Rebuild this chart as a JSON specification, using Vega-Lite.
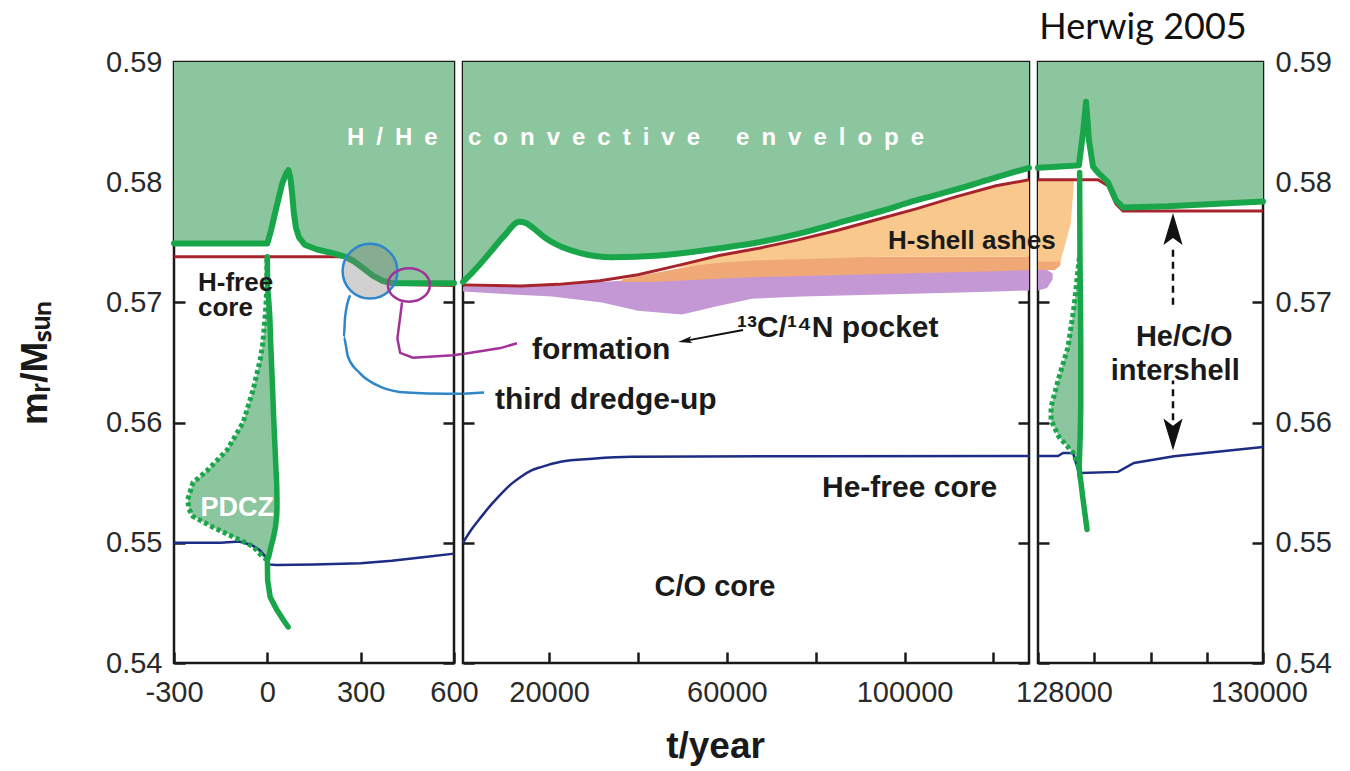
{
  "$schema": "https://vega.github.io/schema/vega-lite/v6.json",
  "background": "white",
  "padding": {"left": 15, "top": 9, "right": 5, "bottom": 5},
  "title": {"text": "Herwig 2005", "anchor": "end", "font": "Lato", "fontSize": 36, "fontWeight": "normal", "color": "#111111", "dx": -86, "offset": 0},
  "bounds": "flush",
  "spacing": 9,
  "datasets": {
    "envelope": [
      {"p":1,"x":-300,"y":0.5749},{"p":1,"x":0,"y":0.5749},{"p":1,"x":12,"y":0.5760},{"p":1,"x":30,"y":0.5780},{"p":1,"x":48,"y":0.5799},{"p":1,"x":60,"y":0.5807},{"p":1,"x":68,"y":0.5810},{"p":1,"x":74,"y":0.5804},{"p":1,"x":80,"y":0.5790},{"p":1,"x":85,"y":0.5775},{"p":1,"x":92,"y":0.5762},{"p":1,"x":102,"y":0.5754},{"p":1,"x":120,"y":0.5748},{"p":1,"x":160,"y":0.5744},{"p":1,"x":210,"y":0.5741},{"p":1,"x":250,"y":0.5738},{"p":1,"x":280,"y":0.5734},{"p":1,"x":310,"y":0.5728},{"p":1,"x":340,"y":0.5722},{"p":1,"x":370,"y":0.5718},{"p":1,"x":400,"y":0.5716},{"p":1,"x":600,"y":0.5716},
      {"p":2,"x":600,"y":0.5717},{"p":2,"x":3500,"y":0.5728},{"p":2,"x":6565,"y":0.5741},{"p":2,"x":10000,"y":0.5756},{"p":2,"x":13250,"y":0.5767},{"p":2,"x":14800,"y":0.5766},{"p":2,"x":16360,"y":0.5762},{"p":2,"x":19000,"y":0.5754},{"p":2,"x":21710,"y":0.5748},{"p":2,"x":27050,"y":0.5741},{"p":2,"x":34140,"y":0.57375},{"p":2,"x":44860,"y":0.5739},{"p":2,"x":58230,"y":0.5745},{"p":2,"x":67140,"y":0.5750},{"p":2,"x":76000,"y":0.5757},{"p":2,"x":84950,"y":0.5766},{"p":2,"x":93800,"y":0.5775},{"p":2,"x":102770,"y":0.5785},{"p":2,"x":111660,"y":0.5794},{"p":2,"x":120580,"y":0.5804},{"p":2,"x":128000,"y":0.5812},
      {"p":3,"x":128000,"y":0.5812},{"p":3,"x":128200,"y":0.5813},{"p":3,"x":128364,"y":0.5814},{"p":3,"x":128385,"y":0.5830},{"p":3,"x":128400,"y":0.5841},{"p":3,"x":128427,"y":0.5867},{"p":3,"x":128440,"y":0.5852},{"p":3,"x":128453,"y":0.5835},{"p":3,"x":128489,"y":0.5813},{"p":3,"x":128533,"y":0.5808},{"p":3,"x":128622,"y":0.5800},{"p":3,"x":128693,"y":0.5785},{"p":3,"x":128756,"y":0.5779},{"p":3,"x":129156,"y":0.5780},{"p":3,"x":130000,"y":0.5784}
    ],
    "hfree": [
      {"p":1,"x":-300,"y":0.5738},{"p":1,"x":250,"y":0.5738},{"p":1,"x":300,"y":0.5729},{"p":1,"x":350,"y":0.5720},{"p":1,"x":400,"y":0.5715},{"p":1,"x":600,"y":0.5714},
      {"p":2,"x":600,"y":0.57145},{"p":2,"x":13660,"y":0.57136},{"p":2,"x":22000,"y":0.5715},{"p":2,"x":31440,"y":0.5718},{"p":2,"x":40000,"y":0.5723},{"p":2,"x":49310,"y":0.5731},{"p":2,"x":58230,"y":0.5739},{"p":2,"x":67140,"y":0.5745},{"p":2,"x":76000,"y":0.5752},{"p":2,"x":84950,"y":0.5760},{"p":2,"x":93800,"y":0.5769},{"p":2,"x":102770,"y":0.5778},{"p":2,"x":111660,"y":0.5788},{"p":2,"x":120580,"y":0.5797},{"p":2,"x":128000,"y":0.5802},
      {"p":3,"x":128000,"y":0.5802},{"p":3,"x":128533,"y":0.5802},{"p":3,"x":128622,"y":0.5797},{"p":3,"x":128693,"y":0.5782},{"p":3,"x":128756,"y":0.5776},{"p":3,"x":130000,"y":0.5776}
    ],
    "hefree": [
      {"p":1,"x":-300,"y":0.5500},{"p":1,"x":-150,"y":0.5500},{"p":1,"x":-90,"y":0.5501},{"p":1,"x":-50,"y":0.5498},{"p":1,"x":-25,"y":0.5494},{"p":1,"x":-8,"y":0.5489},{"p":1,"x":0,"y":0.5486},{"p":1,"x":2,"y":0.5482},{"p":1,"x":30,"y":0.54815},{"p":1,"x":150,"y":0.5482},{"p":1,"x":300,"y":0.5483},{"p":1,"x":400,"y":0.5485},{"p":1,"x":500,"y":0.5488},{"p":1,"x":600,"y":0.5491},
      {"p":2,"x":600,"y":0.5500},{"p":2,"x":2500,"y":0.5511},{"p":2,"x":4787,"y":0.5522},{"p":2,"x":7000,"y":0.5532},{"p":2,"x":9244,"y":0.5541},{"p":2,"x":11500,"y":0.5549},{"p":2,"x":13656,"y":0.5555},{"p":2,"x":15900,"y":0.5560},{"p":2,"x":18158,"y":0.5563},{"p":2,"x":22593,"y":0.55675},{"p":2,"x":29729,"y":0.5570},{"p":2,"x":38642,"y":0.55716},{"p":2,"x":80000,"y":0.5572},{"p":2,"x":128000,"y":0.55722},
      {"p":3,"x":128000,"y":0.55722},{"p":3,"x":128178,"y":0.55722},{"p":3,"x":128222,"y":0.55747},{"p":3,"x":128311,"y":0.55747},{"p":3,"x":128364,"y":0.5558},{"p":3,"x":128380,"y":0.5558},{"p":3,"x":128711,"y":0.5559},{"p":3,"x":128853,"y":0.55664},{"p":3,"x":129209,"y":0.5572},{"p":3,"x":130000,"y":0.55797}
    ],
    "pdcz": [
      {"p":1,"y":0.5737,"xl":-1,"xr":1},{"p":1,"y":0.5712,"xl":-2,"xr":2},{"p":1,"y":0.5700,"xl":-4,"xr":5},{"p":1,"y":0.5688,"xl":-7,"xr":8},{"p":1,"y":0.5665,"xl":-15,"xr":11},{"p":1,"y":0.5652,"xl":-23,"xr":13},{"p":1,"y":0.5627,"xl":-46,"xr":17},{"p":1,"y":0.5600,"xl":-78,"xr":21},{"p":1,"y":0.5577,"xl":-130,"xr":25},{"p":1,"y":0.5560,"xl":-194,"xr":28},{"p":1,"y":0.5550,"xl":-239,"xr":30},{"p":1,"y":0.5536,"xl":-256,"xr":31},{"p":1,"y":0.5528,"xl":-252,"xr":31},{"p":1,"y":0.5522,"xl":-239,"xr":30},{"p":1,"y":0.5513,"xl":-175,"xr":26},{"p":1,"y":0.5505,"xl":-110,"xr":20},{"p":1,"y":0.5497,"xl":-46,"xr":12},{"p":1,"y":0.5488,"xl":-14,"xr":4},{"p":1,"y":0.5486,"xl":0,"xr":1},
      {"p":3,"y":0.5738,"xl":128368,"xr":128375},{"p":3,"y":0.5696,"xl":128320,"xr":128378},{"p":3,"y":0.5663,"xl":128267,"xr":128380},{"p":3,"y":0.5635,"xl":128178,"xr":128380},{"p":3,"y":0.5613,"xl":128116,"xr":128380},{"p":3,"y":0.5602,"xl":128116,"xr":128378},{"p":3,"y":0.5588,"xl":128187,"xr":128375},{"p":3,"y":0.5575,"xl":128311,"xr":128370},{"p":3,"y":0.5563,"xl":128364,"xr":128366}
    ],
    "pdczSolid": [
      {"p":1,"x":0,"y":0.5738},{"p":1,"x":1,"y":0.5712},{"p":1,"x":5,"y":0.5700},{"p":1,"x":8,"y":0.5688},{"p":1,"x":11,"y":0.5665},{"p":1,"x":13,"y":0.5652},{"p":1,"x":17,"y":0.5627},{"p":1,"x":21,"y":0.5600},{"p":1,"x":25,"y":0.5577},{"p":1,"x":28,"y":0.5560},{"p":1,"x":30,"y":0.5550},{"p":1,"x":31,"y":0.5536},{"p":1,"x":31,"y":0.5528},{"p":1,"x":30,"y":0.5522},{"p":1,"x":26,"y":0.5513},{"p":1,"x":20,"y":0.5505},{"p":1,"x":12,"y":0.5497},{"p":1,"x":4,"y":0.5488},{"p":1,"x":0,"y":0.5486},{"p":1,"x":1,"y":0.5469},{"p":1,"x":9,"y":0.5455},{"p":1,"x":31,"y":0.5444},{"p":1,"x":51,"y":0.5436},{"p":1,"x":67,"y":0.5430},
      {"p":3,"x":128370,"y":0.5808},{"p":3,"x":128373,"y":0.5738},{"p":3,"x":128378,"y":0.5696},{"p":3,"x":128380,"y":0.5663},{"p":3,"x":128380,"y":0.5613},{"p":3,"x":128378,"y":0.5602},{"p":3,"x":128375,"y":0.5588},{"p":3,"x":128370,"y":0.5575},{"p":3,"x":128366,"y":0.5563},{"p":3,"x":128372,"y":0.5556},{"p":3,"x":128382,"y":0.5550},{"p":3,"x":128395,"y":0.5540},{"p":3,"x":128409,"y":0.5530},{"p":3,"x":128436,"y":0.5511}
    ],
    "ashes": [
      {"p":2,"band":"pocket","x":600,"y":0.5713,"y2":0.5709},{"p":2,"band":"pocket","x":10000,"y":0.5713,"y2":0.5707},{"p":2,"band":"pocket","x":20630,"y":0.5715,"y2":0.5705},{"p":2,"band":"pocket","x":31890,"y":0.5717,"y2":0.5700},{"p":2,"band":"pocket","x":40000,"y":0.5719,"y2":0.5693},{"p":2,"band":"pocket","x":49900,"y":0.5720,"y2":0.5690},{"p":2,"band":"pocket","x":58000,"y":0.5721,"y2":0.5697},{"p":2,"band":"pocket","x":65650,"y":0.5722,"y2":0.5703},{"p":2,"band":"pocket","x":76910,"y":0.5723,"y2":0.5705},{"p":2,"band":"pocket","x":88160,"y":0.5724,"y2":0.5706},{"p":2,"band":"pocket","x":99420,"y":0.5725,"y2":0.5707},{"p":2,"band":"pocket","x":110670,"y":0.5726,"y2":0.5708},{"p":2,"band":"pocket","x":120580,"y":0.5727,"y2":0.5709},{"p":2,"band":"pocket","x":128000,"y":0.5728,"y2":0.5710},
      {"p":3,"band":"pocket","x":128000,"y":0.5728,"y2":0.5710},{"p":3,"band":"pocket","x":128080,"y":0.5727,"y2":0.5712},{"p":3,"band":"pocket","x":128130,"y":0.5724,"y2":0.5719},
      {"p":2,"band":"mixing","x":36390,"y":0.5719,"y2":0.5717},{"p":2,"band":"mixing","x":43140,"y":0.5724,"y2":0.5717},{"p":2,"band":"mixing","x":54400,"y":0.5732,"y2":0.5719},{"p":2,"band":"mixing","x":65650,"y":0.5736,"y2":0.5721},{"p":2,"band":"mixing","x":76910,"y":0.5737,"y2":0.5722},{"p":2,"band":"mixing","x":88160,"y":0.5738,"y2":0.5723},{"p":2,"band":"mixing","x":99420,"y":0.5738,"y2":0.5724},{"p":2,"band":"mixing","x":110670,"y":0.5738,"y2":0.5725},{"p":2,"band":"mixing","x":120580,"y":0.5738,"y2":0.5726},{"p":2,"band":"mixing","x":128000,"y":0.5738,"y2":0.5727},
      {"p":3,"band":"mixing","x":128000,"y":0.5738,"y2":0.5727},{"p":3,"band":"mixing","x":128150,"y":0.5738,"y2":0.5727},{"p":3,"band":"mixing","x":128200,"y":0.5736,"y2":0.5731},
      {"p":2,"band":"ashes","x":49310,"y":0.5731,"y2":0.5729},{"p":2,"band":"ashes","x":58230,"y":0.5739,"y2":0.5733},{"p":2,"band":"ashes","x":67140,"y":0.5745,"y2":0.5735},{"p":2,"band":"ashes","x":76000,"y":0.5752,"y2":0.5736},{"p":2,"band":"ashes","x":84950,"y":0.5760,"y2":0.5737},{"p":2,"band":"ashes","x":93800,"y":0.5769,"y2":0.5738},{"p":2,"band":"ashes","x":102770,"y":0.5778,"y2":0.5738},{"p":2,"band":"ashes","x":111660,"y":0.5788,"y2":0.5738},{"p":2,"band":"ashes","x":120580,"y":0.5797,"y2":0.5738},{"p":2,"band":"ashes","x":128000,"y":0.5802,"y2":0.5738},
      {"p":3,"band":"ashes","x":128000,"y":0.5802,"y2":0.5734},{"p":3,"band":"ashes","x":128200,"y":0.5802,"y2":0.5734},{"p":3,"band":"ashes","x":128290,"y":0.5802,"y2":0.5765},{"p":3,"band":"ashes","x":128320,"y":0.5802,"y2":0.5800}
    ],
    "leaders": [
      {"p":1,"name":"dredge-up","i":0,"x":266,"y":0.5706},{"p":1,"name":"dredge-up","i":1,"x":250,"y":0.5688},{"p":1,"name":"dredge-up","i":2,"x":246,"y":0.5671},{"p":1,"name":"dredge-up","i":3,"x":259,"y":0.5655},{"p":1,"name":"dredge-up","i":4,"x":298,"y":0.5641},{"p":1,"name":"dredge-up","i":5,"x":362,"y":0.5630},{"p":1,"name":"dredge-up","i":6,"x":449,"y":0.5625},{"p":1,"name":"dredge-up","i":7,"x":578,"y":0.5624},{"p":1,"name":"dredge-up","i":8,"x":625,"y":0.5624},
      {"p":2,"name":"dredge-up","i":0,"x":600,"y":0.5624},{"p":2,"name":"dredge-up","i":1,"x":5330,"y":0.5625},
      {"p":1,"name":"formation","i":0,"x":433,"y":0.5700},{"p":1,"name":"formation","i":1,"x":427,"y":0.5688},{"p":1,"name":"formation","i":2,"x":418,"y":0.5670},{"p":1,"name":"formation","i":3,"x":427,"y":0.5658},{"p":1,"name":"formation","i":4,"x":468,"y":0.5654},{"p":1,"name":"formation","i":5,"x":597,"y":0.5656},{"p":1,"name":"formation","i":6,"x":625,"y":0.5657},
      {"p":2,"name":"formation","i":0,"x":600,"y":0.5657},{"p":2,"name":"formation","i":1,"x":9050,"y":0.5662},{"p":2,"name":"formation","i":2,"x":12750,"y":0.5666}
    ],
    "circles": [
      {"p":1,"name":"dredge-up","x":330,"y":0.5726},
      {"p":1,"name":"formation","x":455,"y":0.57145}
    ],
    "pointer": [
      {"part":"stem","x":63630,"y":0.5677},{"part":"stem","x":50570,"y":0.5668},{"part":"head","x":50570,"y":0.5668}
    ],
    "span": [
      {"part":"upper","x":129200,"y":0.5748},{"part":"upper","x":129200,"y":0.5698},
      {"part":"lower","x":129200,"y":0.5635},{"part":"lower","x":129200,"y":0.5602},
      {"part":"top","x":129200,"y":0.5761},{"part":"bottom","x":129200,"y":0.5590}
    ],
    "notes": [
      {"p":1,"text":"H\u2002/\u2002H\u2002e","x":256,"y":0.5837},
      {"p":1,"text":"PDCZ","x":-97,"y":0.5529},
      {"p":1,"text":"H-free","x":-223,"y":0.5716},
      {"p":1,"text":"core","x":-223,"y":0.5695},
      {"p":2,"text":"c\u2002o\u2002n\u2002v\u2002e\u2002c\u2002t\u2002i\u2002v\u2002e\u2003\u2002e\u2002n\u2002v\u2002e\u2002l\u2002o\u2002p\u2002e","x":1726,"y":0.5837},
      {"p":2,"text":"formation","x":16130,"y":0.5660},
      {"p":2,"text":"¹³C/¹⁴N pocket","x":62280,"y":0.5679},
      {"p":2,"text":"third dredge-up","x":7800,"y":0.5619},
      {"p":2,"text":"He-free core","x":81410,"y":0.5546},
      {"p":2,"text":"C/O core","x":57330,"y":0.5463},
      {"p":3,"text":"H-shell ashes","x":126667,"y":0.5751},
      {"p":3,"text":"He/C/O","x":129300,"y":0.5671},
      {"p":3,"text":"intershell","x":129220,"y":0.5643}
    ]
  },
  "hconcat": [
    {
      "width": 280,
      "height": 601,
      "resolve": {"axis": {"x": "independent", "y": "independent"}},
      "layer": [
        {
          "data": {"name": "envelope"},
          "transform": [{"filter": "datum.p == 1"}],
          "mark": {"type": "area", "color": "#8cc69e"},
          "encoding": {
            "x": {"field": "x", "type": "quantitative", "scale": {"domain": [-300, 600], "nice": false, "zero": false},
                  "axis": {"orient": "bottom", "values": [-300, 0, 300, 600], "format": "d", "labelExpr": "datum.value == -300 ? '-300' : datum.label", "title": null}},
            "y": {"field": "y", "type": "quantitative", "scale": {"domain": [0.54, 0.59], "nice": false, "zero": false},
                  "axis": {"orient": "left", "values": [0.54, 0.55, 0.56, 0.57, 0.58, 0.59], "format": ".2f", "title": "mᵣ/Mₛᵤₙ", "titlePadding": 51}},
            "y2": {"datum": 0.59}
          }
        },
        {
          "data": {"name": "pdcz"},
          "transform": [{"filter": "datum.p == 1"}],
          "mark": {"type": "area", "orient": "horizontal", "color": "#8cc69e"},
          "encoding": {
            "y": {"field": "y", "type": "quantitative", "axis": null},
            "x": {"field": "xl", "type": "quantitative", "axis": null},
            "x2": {"field": "xr"}
          }
        },
        {
          "data": {"name": "hfree"},
          "transform": [{"filter": "datum.p == 1"}],
          "mark": {"type": "line", "color": "#a8242c", "strokeWidth": 3},
          "encoding": {"x": {"field": "x", "type": "quantitative", "axis": null}, "y": {"field": "y", "type": "quantitative", "axis": null}}
        },
        {
          "data": {"name": "hefree"},
          "transform": [{"filter": "datum.p == 1"}],
          "mark": {"type": "line", "color": "#1d2c84", "strokeWidth": 2.5},
          "encoding": {"x": {"field": "x", "type": "quantitative", "axis": null}, "y": {"field": "y", "type": "quantitative", "axis": null}, "order": {"field": "x"}}
        },
        {
          "data": {"name": "pdcz"},
          "transform": [{"filter": "datum.p == 1"}],
          "mark": {"type": "line", "color": "#19a64a", "strokeWidth": 5, "strokeDash": [4, 3]},
          "encoding": {"x": {"field": "xl", "type": "quantitative", "axis": null}, "y": {"field": "y", "type": "quantitative", "axis": null}, "order": {"field": "y"}}
        },
        {
          "data": {"name": "pdczSolid"},
          "transform": [{"filter": "datum.p == 1"}],
          "mark": {"type": "line", "color": "#19a64a", "strokeWidth": 5.5, "strokeCap": "round", "strokeJoin": "round"},
          "encoding": {"x": {"field": "x", "type": "quantitative", "axis": null}, "y": {"field": "y", "type": "quantitative", "axis": null}, "order": {"field": "y", "sort": "descending"}}
        },
        {
          "data": {"name": "envelope"},
          "transform": [{"filter": "datum.p == 1"}],
          "mark": {"type": "line", "color": "#19a64a", "strokeWidth": 6, "strokeCap": "round", "strokeJoin": "round"},
          "encoding": {
            "x": {"field": "x", "type": "quantitative", "axis": {"orient": "top", "values": [0, 300], "labels": false, "title": null}},
            "y": {"field": "y", "type": "quantitative", "axis": {"orient": "right", "values": [0.54, 0.55, 0.56, 0.57, 0.58, 0.59], "labels": false, "title": null}}
          }
        },
        {
          "data": {"name": "leaders"},
          "transform": [{"filter": "datum.p == 1 && datum.name == 'dredge-up'"}],
          "mark": {"type": "line", "color": "#2f86c8", "strokeWidth": 2.5, "interpolate": "monotone"},
          "encoding": {"x": {"field": "x", "type": "quantitative", "axis": null}, "y": {"field": "y", "type": "quantitative", "axis": null}, "order": {"field": "i"}}
        },
        {
          "data": {"name": "leaders"},
          "transform": [{"filter": "datum.p == 1 && datum.name == 'formation'"}],
          "mark": {"type": "line", "color": "#a0329a", "strokeWidth": 2.5},
          "encoding": {"x": {"field": "x", "type": "quantitative", "axis": null}, "y": {"field": "y", "type": "quantitative", "axis": null}, "order": {"field": "i"}}
        },
        {
          "data": {"name": "circles"},
          "transform": [{"filter": "datum.name == 'dredge-up'"}],
          "mark": {"type": "point", "shape": "circle", "size": 3000, "filled": true, "fill": "#7c7c7c", "fillOpacity": 0.35, "stroke": "#2f86c8", "strokeWidth": 2.5, "strokeOpacity": 1},
          "encoding": {"x": {"field": "x", "type": "quantitative", "axis": null}, "y": {"field": "y", "type": "quantitative", "axis": null}}
        },
        {
          "data": {"name": "circles"},
          "transform": [{"filter": "datum.name == 'formation'"}],
          "mark": {"type": "point", "shape": "M-1,0A1,0.8,0,1,1,1,0A1,0.8,0,1,1,-1,0Z", "size": 1764, "filled": false, "color": "#a0329a", "strokeWidth": 2.5, "opacity": 1},
          "encoding": {"x": {"field": "x", "type": "quantitative", "axis": null}, "y": {"field": "y", "type": "quantitative", "axis": null}}
        },
        {
          "data": {"name": "notes"},
          "transform": [{"filter": {"field": "text", "oneOf": ["H\u2002/\u2002H\u2002e"]}}],
          "mark": {"type": "text", "align": "left", "color": "white", "fontSize": 24, "fontWeight": "bold", "font": "Liberation Sans"},
          "encoding": {"x": {"field": "x", "type": "quantitative", "axis": null}, "y": {"field": "y", "type": "quantitative", "axis": null}, "text": {"field": "text"}}
        },
        {
          "data": {"name": "notes"},
          "transform": [{"filter": {"field": "text", "oneOf": ["PDCZ"]}}],
          "mark": {"type": "text", "align": "center", "color": "white", "fontSize": 27, "fontWeight": "bold", "font": "Liberation Sans"},
          "encoding": {"x": {"field": "x", "type": "quantitative", "axis": null}, "y": {"field": "y", "type": "quantitative", "axis": null}, "text": {"field": "text"}}
        },
        {
          "data": {"name": "notes"},
          "transform": [{"filter": {"field": "text", "oneOf": ["H-free", "core"]}}],
          "mark": {"type": "text", "align": "left", "color": "#1a1a1a", "fontSize": 26, "fontWeight": "bold", "font": "Liberation Sans"},
          "encoding": {"x": {"field": "x", "type": "quantitative", "axis": null}, "y": {"field": "y", "type": "quantitative", "axis": null}, "text": {"field": "text"}}
        }
      ]
    },
    {
      "width": 566,
      "height": 601,
      "resolve": {"axis": {"x": "independent", "y": "independent"}},
      "layer": [
        {
          "data": {"name": "envelope"},
          "transform": [{"filter": "datum.p == 2"}],
          "mark": {"type": "area", "color": "#8cc69e"},
          "encoding": {
            "x": {"field": "x", "type": "quantitative", "scale": {"domain": [600, 128000], "nice": false, "zero": false},
                  "axis": {"orient": "bottom", "values": [20000, 40000, 60000, 80000, 100000, 120000], "format": "d",
                           "labelExpr": "datum.value % 40000 == 20000 ? datum.label : ''",
                           "title": "t/year", "titleX": 252, "titlePadding": 21}},
            "y": {"field": "y", "type": "quantitative", "scale": {"domain": [0.54, 0.59], "nice": false, "zero": false},
                  "axis": {"orient": "left", "values": [0.54, 0.55, 0.56, 0.57, 0.58, 0.59], "labels": false, "title": null}},
            "y2": {"datum": 0.59}
          }
        },
        {
          "data": {"name": "ashes"},
          "transform": [{"filter": "datum.p == 2 && datum.band == 'pocket'"}],
          "mark": {"type": "area", "color": "#c498d4"},
          "encoding": {"x": {"field": "x", "type": "quantitative", "axis": null}, "y": {"field": "y", "type": "quantitative", "axis": null}, "y2": {"field": "y2"}}
        },
        {
          "data": {"name": "ashes"},
          "transform": [{"filter": "datum.p == 2 && datum.band == 'mixing'"}],
          "mark": {"type": "area", "color": "#f0a877"},
          "encoding": {"x": {"field": "x", "type": "quantitative", "axis": null}, "y": {"field": "y", "type": "quantitative", "axis": null}, "y2": {"field": "y2"}}
        },
        {
          "data": {"name": "ashes"},
          "transform": [{"filter": "datum.p == 2 && datum.band == 'ashes'"}],
          "mark": {"type": "area", "color": "#f8c88c"},
          "encoding": {"x": {"field": "x", "type": "quantitative", "axis": null}, "y": {"field": "y", "type": "quantitative", "axis": null}, "y2": {"field": "y2"}}
        },
        {
          "data": {"name": "hfree"},
          "transform": [{"filter": "datum.p == 2"}],
          "mark": {"type": "line", "color": "#a8242c", "strokeWidth": 3},
          "encoding": {"x": {"field": "x", "type": "quantitative", "axis": null}, "y": {"field": "y", "type": "quantitative", "axis": null}}
        },
        {
          "data": {"name": "hefree"},
          "transform": [{"filter": "datum.p == 2"}],
          "mark": {"type": "line", "color": "#1d2c84", "strokeWidth": 2.5, "interpolate": "monotone"},
          "encoding": {"x": {"field": "x", "type": "quantitative", "axis": null}, "y": {"field": "y", "type": "quantitative", "axis": null}}
        },
        {
          "data": {"name": "envelope"},
          "transform": [{"filter": "datum.p == 2"}],
          "mark": {"type": "line", "color": "#19a64a", "strokeWidth": 6, "strokeCap": "round", "strokeJoin": "round", "interpolate": "monotone"},
          "encoding": {
            "x": {"field": "x", "type": "quantitative", "axis": {"orient": "top", "values": [20000, 40000, 60000, 80000, 100000, 120000], "labels": false, "title": null}},
            "y": {"field": "y", "type": "quantitative", "axis": {"orient": "right", "values": [0.54, 0.55, 0.56, 0.57, 0.58, 0.59], "labels": false, "title": null}}
          }
        },
        {
          "data": {"name": "leaders"},
          "transform": [{"filter": "datum.p == 2 && datum.name == 'dredge-up'"}],
          "mark": {"type": "line", "color": "#2f86c8", "strokeWidth": 2.5},
          "encoding": {"x": {"field": "x", "type": "quantitative", "axis": null}, "y": {"field": "y", "type": "quantitative", "axis": null}, "order": {"field": "i"}}
        },
        {
          "data": {"name": "leaders"},
          "transform": [{"filter": "datum.p == 2 && datum.name == 'formation'"}],
          "mark": {"type": "line", "color": "#a0329a", "strokeWidth": 2.5},
          "encoding": {"x": {"field": "x", "type": "quantitative", "axis": null}, "y": {"field": "y", "type": "quantitative", "axis": null}, "order": {"field": "i"}}
        },
        {
          "data": {"name": "pointer"},
          "transform": [{"filter": "datum.part == 'stem'"}],
          "mark": {"type": "line", "color": "#111111", "strokeWidth": 2},
          "encoding": {"x": {"field": "x", "type": "quantitative", "axis": null}, "y": {"field": "y", "type": "quantitative", "axis": null}}
        },
        {
          "data": {"name": "pointer"},
          "transform": [{"filter": "datum.part == 'head'"}],
          "mark": {"type": "point", "shape": "M-1,0L1,-0.5L0.55,0L1,0.5Z", "size": 196, "filled": true, "color": "#111111", "opacity": 1, "angle": -10},
          "encoding": {"x": {"field": "x", "type": "quantitative", "axis": null}, "y": {"field": "y", "type": "quantitative", "axis": null}}
        },
        {
          "data": {"name": "notes"},
          "transform": [{"filter": "datum.p == 2 && indexof(datum.text, 'c\u2002o') == 0"}],
          "mark": {"type": "text", "align": "left", "color": "white", "fontSize": 24, "fontWeight": "bold", "font": "Liberation Sans"},
          "encoding": {"x": {"field": "x", "type": "quantitative", "axis": null}, "y": {"field": "y", "type": "quantitative", "axis": null}, "text": {"field": "text"}}
        },
        {
          "data": {"name": "notes"},
          "transform": [{"filter": {"field": "text", "oneOf": ["formation", "¹³C/¹⁴N pocket", "third dredge-up", "He-free core"]}}],
          "mark": {"type": "text", "align": "left", "color": "#1a1a1a", "fontSize": 30, "fontWeight": "bold", "font": "Liberation Sans"},
          "encoding": {"x": {"field": "x", "type": "quantitative", "axis": null}, "y": {"field": "y", "type": "quantitative", "axis": null}, "text": {"field": "text"}}
        },
        {
          "data": {"name": "notes"},
          "transform": [{"filter": {"field": "text", "oneOf": ["C/O core"]}}],
          "mark": {"type": "text", "align": "center", "color": "#1a1a1a", "fontSize": 29, "fontWeight": "bold", "font": "Liberation Sans"},
          "encoding": {"x": {"field": "x", "type": "quantitative", "axis": null}, "y": {"field": "y", "type": "quantitative", "axis": null}, "text": {"field": "text"}}
        }
      ]
    },
    {
      "width": 225,
      "height": 601,
      "resolve": {"axis": {"x": "independent", "y": "independent"}},
      "layer": [
        {
          "data": {"name": "envelope"},
          "transform": [{"filter": "datum.p == 3"}],
          "mark": {"type": "area", "color": "#8cc69e"},
          "encoding": {
            "x": {"field": "x", "type": "quantitative", "scale": {"domain": [128000, 130000], "nice": false, "zero": false},
                  "axis": {"orient": "bottom", "values": [128000, 128500, 129000, 129500, 130000], "format": "d",
                           "labelExpr": "datum.value == 128000 || datum.value == 130000 ? datum.label : ''",
                           "labelOffset": {"condition": {"test": "datum.value == 128000", "value": 26}, "value": -4},
                           "title": null}},
            "y": {"field": "y", "type": "quantitative", "scale": {"domain": [0.54, 0.59], "nice": false, "zero": false},
                  "axis": {"orient": "right", "values": [0.54, 0.55, 0.56, 0.57, 0.58, 0.59], "format": ".2f", "title": null}},
            "y2": {"datum": 0.59}
          }
        },
        {
          "data": {"name": "ashes"},
          "transform": [{"filter": "datum.p == 3 && datum.band == 'pocket'"}],
          "mark": {"type": "area", "color": "#c498d4"},
          "encoding": {"x": {"field": "x", "type": "quantitative", "axis": null}, "y": {"field": "y", "type": "quantitative", "axis": null}, "y2": {"field": "y2"}}
        },
        {
          "data": {"name": "ashes"},
          "transform": [{"filter": "datum.p == 3 && datum.band == 'mixing'"}],
          "mark": {"type": "area", "color": "#f0a877"},
          "encoding": {"x": {"field": "x", "type": "quantitative", "axis": null}, "y": {"field": "y", "type": "quantitative", "axis": null}, "y2": {"field": "y2"}}
        },
        {
          "data": {"name": "ashes"},
          "transform": [{"filter": "datum.p == 3 && datum.band == 'ashes'"}],
          "mark": {"type": "area", "color": "#f8c88c"},
          "encoding": {"x": {"field": "x", "type": "quantitative", "axis": null}, "y": {"field": "y", "type": "quantitative", "axis": null}, "y2": {"field": "y2"}}
        },
        {
          "data": {"name": "pdcz"},
          "transform": [{"filter": "datum.p == 3"}],
          "mark": {"type": "area", "orient": "horizontal", "color": "#8cc69e"},
          "encoding": {
            "y": {"field": "y", "type": "quantitative", "axis": null},
            "x": {"field": "xl", "type": "quantitative", "axis": null},
            "x2": {"field": "xr"}
          }
        },
        {
          "data": {"name": "hfree"},
          "transform": [{"filter": "datum.p == 3"}],
          "mark": {"type": "line", "color": "#a8242c", "strokeWidth": 3},
          "encoding": {"x": {"field": "x", "type": "quantitative", "axis": null}, "y": {"field": "y", "type": "quantitative", "axis": null}}
        },
        {
          "data": {"name": "hefree"},
          "transform": [{"filter": "datum.p == 3"}],
          "mark": {"type": "line", "color": "#1d2c84", "strokeWidth": 2.5},
          "encoding": {"x": {"field": "x", "type": "quantitative", "axis": null}, "y": {"field": "y", "type": "quantitative", "axis": null}}
        },
        {
          "data": {"name": "pdcz"},
          "transform": [{"filter": "datum.p == 3"}],
          "mark": {"type": "line", "color": "#19a64a", "strokeWidth": 5, "strokeDash": [4, 3]},
          "encoding": {"x": {"field": "xl", "type": "quantitative", "axis": null}, "y": {"field": "y", "type": "quantitative", "axis": null}, "order": {"field": "y"}}
        },
        {
          "data": {"name": "pdczSolid"},
          "transform": [{"filter": "datum.p == 3"}],
          "mark": {"type": "line", "color": "#19a64a", "strokeWidth": 5.5, "strokeCap": "round", "strokeJoin": "round"},
          "encoding": {"x": {"field": "x", "type": "quantitative", "axis": null}, "y": {"field": "y", "type": "quantitative", "axis": null}, "order": {"field": "y", "sort": "descending"}}
        },
        {
          "data": {"name": "envelope"},
          "transform": [{"filter": "datum.p == 3"}],
          "mark": {"type": "line", "color": "#19a64a", "strokeWidth": 6, "strokeCap": "round", "strokeJoin": "round"},
          "encoding": {
            "x": {"field": "x", "type": "quantitative", "axis": {"orient": "top", "values": [128500, 129000, 129500], "labels": false, "title": null}},
            "y": {"field": "y", "type": "quantitative", "axis": {"orient": "left", "values": [0.54, 0.55, 0.56, 0.57, 0.58, 0.59], "labels": false, "title": null}}
          }
        },
        {
          "data": {"name": "span"},
          "transform": [{"filter": "datum.part == 'upper' || datum.part == 'lower'"}],
          "mark": {"type": "line", "color": "#111111", "strokeWidth": 2.5, "strokeDash": [7, 5]},
          "encoding": {"x": {"field": "x", "type": "quantitative", "axis": null}, "y": {"field": "y", "type": "quantitative", "axis": null}, "detail": {"field": "part"}, "order": {"field": "y"}}
        },
        {
          "data": {"name": "span"},
          "transform": [{"filter": "datum.part == 'top'"}],
          "mark": {"type": "point", "shape": "M0,-1L0.6,1L0,0.55L-0.6,1Z", "size": 1024, "filled": true, "color": "#111111", "opacity": 1},
          "encoding": {"x": {"field": "x", "type": "quantitative", "axis": null}, "y": {"field": "y", "type": "quantitative", "axis": null}}
        },
        {
          "data": {"name": "span"},
          "transform": [{"filter": "datum.part == 'bottom'"}],
          "mark": {"type": "point", "shape": "M0,1L0.6,-1L0,-0.55L-0.6,-1Z", "size": 1024, "filled": true, "color": "#111111", "opacity": 1},
          "encoding": {"x": {"field": "x", "type": "quantitative", "axis": null}, "y": {"field": "y", "type": "quantitative", "axis": null}}
        },
        {
          "data": {"name": "notes"},
          "transform": [{"filter": {"field": "text", "oneOf": ["H-shell ashes"]}}],
          "mark": {"type": "text", "align": "left", "color": "#1a1a1a", "fontSize": 26, "fontWeight": "bold", "font": "Liberation Sans"},
          "encoding": {"x": {"field": "x", "type": "quantitative", "axis": null}, "y": {"field": "y", "type": "quantitative", "axis": null}, "text": {"field": "text"}}
        },
        {
          "data": {"name": "notes"},
          "transform": [{"filter": {"field": "text", "oneOf": ["He/C/O", "intershell"]}}],
          "mark": {"type": "text", "align": "center", "color": "#1a1a1a", "fontSize": 29, "fontWeight": "bold", "font": "Liberation Sans"},
          "encoding": {"x": {"field": "x", "type": "quantitative", "axis": null}, "y": {"field": "y", "type": "quantitative", "axis": null}, "text": {"field": "text"}}
        }
      ]
    }
  ],
  "config": {
    "view": {"stroke": "#1a1a1a", "strokeWidth": 2.5},
    "axis": {
      "domain": false, "grid": false,
      "tickSize": -11, "tickWidth": 2.5, "tickColor": "#1a1a1a",
      "labelFont": "Liberation Sans", "labelFontSize": 29, "labelColor": "#2a2a2a",
      "labelFlush": false, "labelOverlap": false,
      "titleFont": "Liberation Sans", "titleFontWeight": "bold", "titleFontSize": 37, "titleColor": "#1a1a1a"
    },
    "axisX": {"labelPadding": 26},
    "axisY": {"labelPadding": 23}
  }
}
